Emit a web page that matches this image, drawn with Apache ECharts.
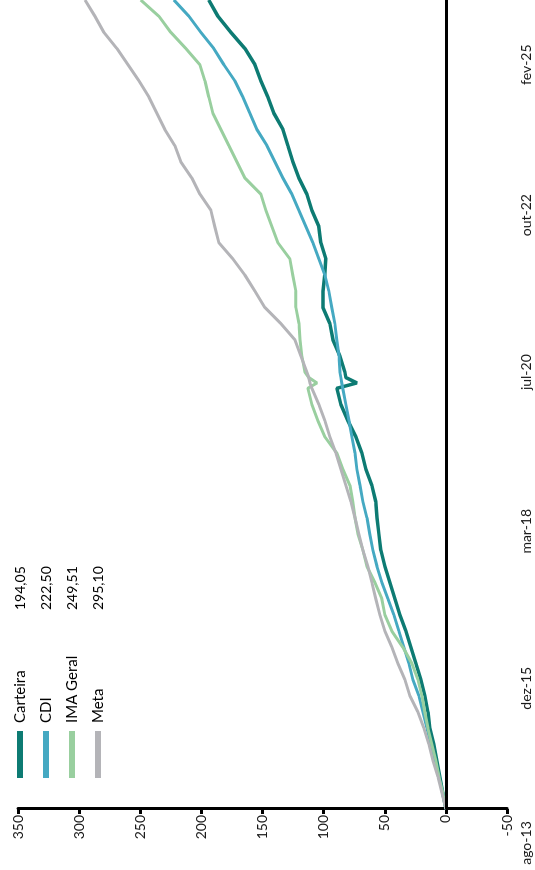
<!DOCTYPE html>
<html>
<head>
<meta charset="utf-8">
<script src="https://cdn.jsdelivr.net/npm/echarts@6/dist/echarts.min.js"></script>
<style>
html, body { margin: 0; padding: 0; background: #fff; overflow: hidden; }
#wrap { width: 535px; height: 870px; position: relative; overflow: hidden; }
/* the chart is laid out landscape and turned a quarter turn to the left */
#chart { position: absolute; left: 0; top: 0; width: 870px; height: 535px;
         transform-origin: 0 0; transform: translateY(870px) rotate(-90deg); }
</style>
</head>
<body>
<div id="wrap"><div id="chart"></div></div>
<script>
// months since ago-13
var months = [0,3,6,9,12,15,18,21,24,27,30,33,36,39,42,45,48,51,54,57,60,63,66,69,72,75,78,79,80,81,
              84,87,90,93,96,99,102,105,108,111,114,117,120,123,126,129,132,135,138,141,144,147,150];

var carteira = [0,2.5,4.9,7.4,9.8,13.1,14.7,17.2,20.5,24.5,28.6,32.7,37.6,41.7,45.8,49.9,53.2,54.8,56.4,57.3,
                60.5,65.4,68.7,73.6,80.2,85.9,89.2,72.8,81.8,82.6,86.7,92.4,94.9,100.6,100.6,99.0,98.2,102.3,
                103.9,109.6,113.7,120.2,125.2,129.2,133.3,140.7,145.6,151.3,156.2,164.4,175.9,186.5,194.05];
var cdi = [0,2.5,5.7,9.0,12.3,15.5,18.8,22.1,27.0,30.3,34.4,38.4,42.5,47.4,52.4,56.4,59.7,62.2,64.6,67.9,
           70.3,72.8,74.4,76.9,79.3,81.8,84.3,85.1,85.9,86.7,87.5,89.2,90.8,93.3,95.7,99.0,103.9,108.8,
           114.5,120.2,126.0,133.3,139.9,146.4,154.6,160.3,166.1,172.6,181.6,189.8,200.4,210.2,222.5];
var imaGeral = [0,2.5,5.7,8.2,11.5,14.7,17.2,19.6,22.9,27.8,35.2,44.2,49.9,52.4,58.1,64.6,67.9,72.0,74.4,76.1,
                78.5,84.3,89.2,99.0,104.7,109.6,112.9,105.5,112.1,115.3,117.8,119.4,120.2,122.7,122.7,125.2,
                127.6,137.4,142.3,147.2,151.3,164.4,171.0,177.5,184.1,190.6,193.9,197.1,201.2,212.7,225.0,234.8,249.51];
var meta = [0,3.3,6.5,10.6,13.9,18.0,22.9,29.4,33.5,39.3,44.2,49.9,54.0,57.3,60.5,63.8,67.9,71.2,74.4,77.7,
            81.8,85.9,90.0,94.9,99.0,103.9,109.6,111.2,112.1,113.7,118.6,123.5,135.0,148.1,156.2,164.4,174.2,
            185.7,189.0,192.2,201.2,207.8,216.8,221.7,229.9,236.4,242.9,251.1,260.1,269.1,279.8,287.1,295.1];

var seriesNames = ['Carteira', 'CDI', 'IMA Geral', 'Meta'];
var finalLabels = ['194,05', '222,50', '249,51', '295,10'];
var colors = ['#0d7b73', '#45a9c2', '#99cf9f', '#b4b4b8'];

// where the date labels sit on the month scale
var tickMonths = [-6.3, 22.4, 51.5, 81.0, 110.1, 138.0];
var tickLabels = ['ago-13', 'dez-15', 'mar-18', 'jul-20', 'out-22', 'fev-25'];

var font = 'Lato, "Open Sans", sans-serif';

function pairs(vals) {
    var out = [];
    for (var i = 0; i < months.length; i++) out.push([months[i], vals[i]]);
    return out;
}

var chart = echarts.init(document.getElementById('chart'));
var allData = [carteira, cdi, imaGeral, meta];
var series = [];
for (var i = 0; i < seriesNames.length; i++) {
    series.push({
        name: seriesNames[i],
        type: 'line',
        data: pairs(allData[i]),
        showSymbol: false,
        symbol: 'none',
        lineStyle: { width: i == 0 ? 3.5 : 3, color: colors[i] },
        itemStyle: { color: colors[i] }
    });
}
// linha do zero
series[0].markLine = {
    silent: true,
    symbol: 'none',
    label: { show: false },
    lineStyle: { color: '#000', width: 3, type: 'solid' },
    data: [[{ coord: [0, 0] }, { coord: [150, 0] }]]
};

chart.setOption({
    animation: false,
    backgroundColor: '#fff',
    grid: { left: 27, right: 0, top: 18, bottom: 28 },
    legend: {
        orient: 'vertical',
        left: 87,
        top: 7,
        itemWidth: 47,
        itemHeight: 6,
        itemGap: 10,
        icon: 'rect',
        data: seriesNames,
        formatter: function (name) {
            return '{n|' + name + '}{v|' + finalLabels[seriesNames.indexOf(name)] + '}';
        },
        textStyle: {
            fontFamily: font, fontSize: 15, color: '#000', lineHeight: 16,
            rich: {
                n: { width: 113, padding: [0, 0, 0, 3], fontFamily: font, fontSize: 15, color: '#000' },
                v: { fontFamily: font, fontSize: 14, color: '#000' }
            }
        }
    },
    xAxis: {
        type: 'value',
        min: -6.3,
        max: 150,
        axisLine: { show: false },
        axisTick: { show: false },
        splitLine: { show: false },
        axisLabel: {
            customValues: tickMonths,
            formatter: function (v) {
                var best = 0;
                for (var k = 1; k < tickMonths.length; k++) {
                    if (Math.abs(tickMonths[k] - v) < Math.abs(tickMonths[best] - v)) best = k;
                }
                return tickLabels[best];
            },
            margin: 12,
            fontFamily: font, fontSize: 14, color: '#1a1a1a'
        }
    },
    yAxis: {
        type: 'value',
        min: -50,
        max: 350,
        interval: 50,
        offset: -34,
        axisLine: { show: true, onZero: false, lineStyle: { color: '#000', width: 3 } },
        axisTick: { show: true, length: 5, lineStyle: { color: '#000', width: 3 } },
        splitLine: { show: false },
        axisLabel: { margin: 6, fontFamily: font, fontSize: 14, color: '#1a1a1a' }
    },
    series: series
});
</script>
</body>
</html>
